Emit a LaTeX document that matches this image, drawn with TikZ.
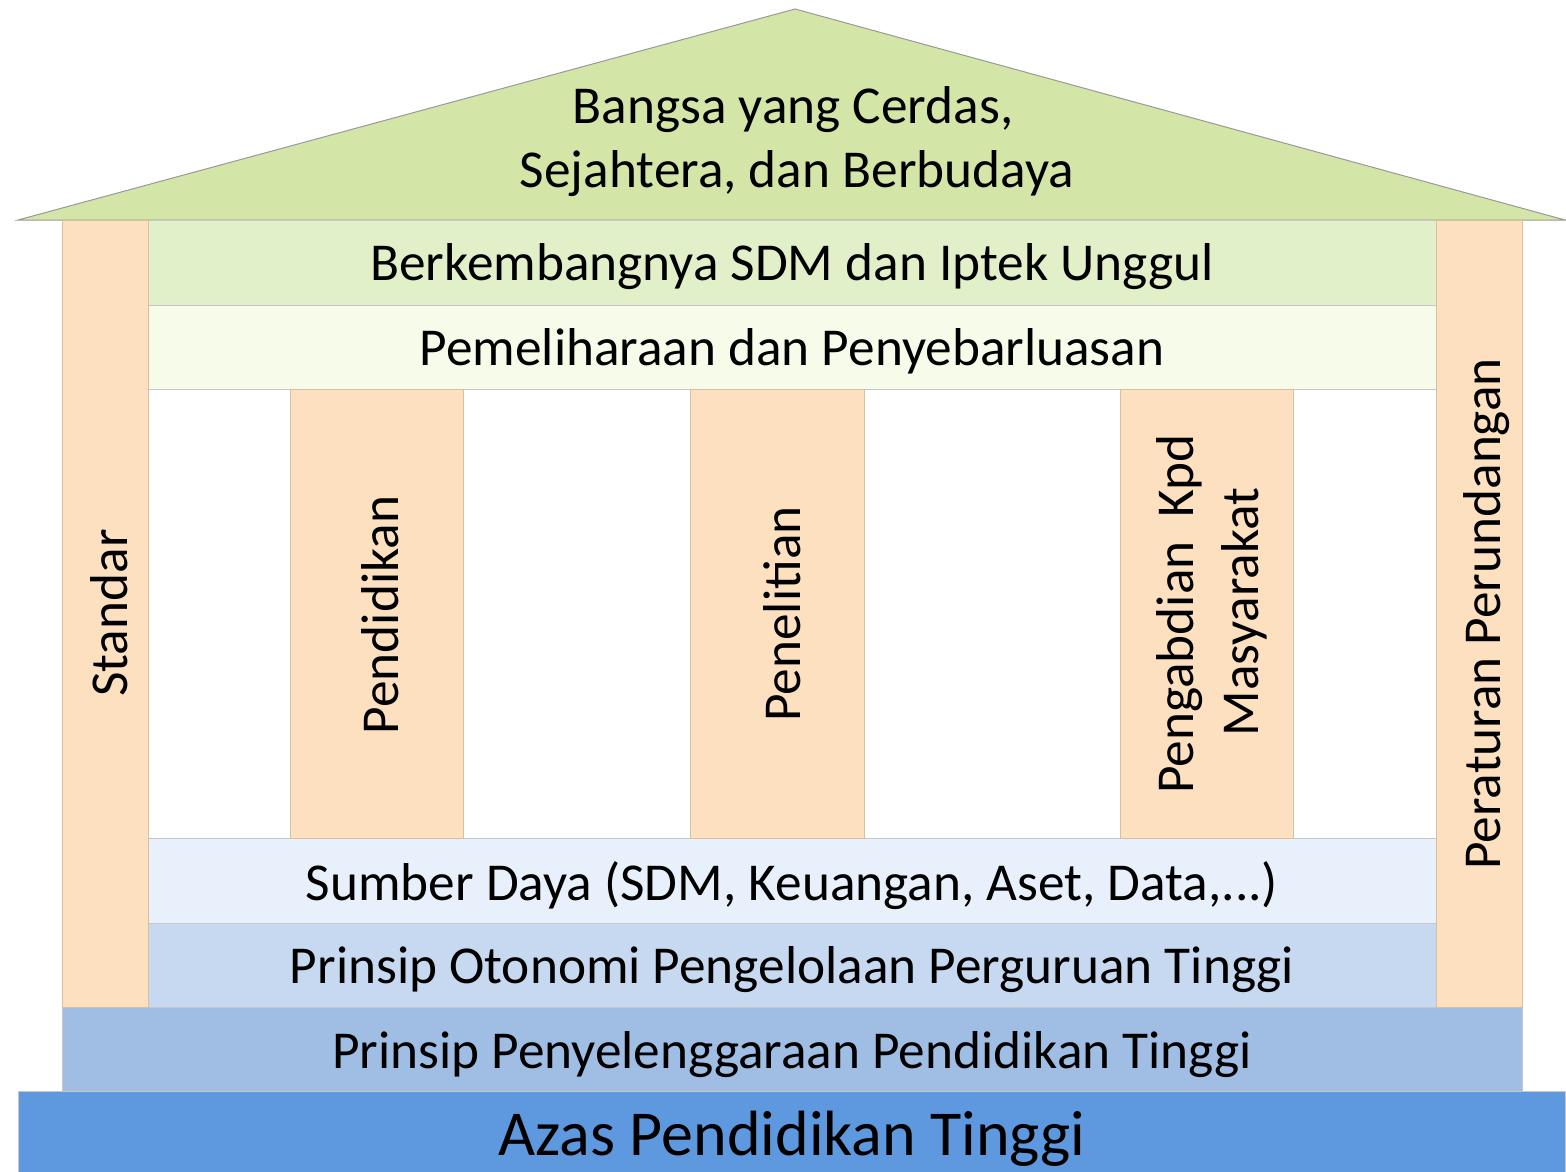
\documentclass[tikz,border=0pt]{standalone}
\usepackage{fontspec}
\setmainfont{Carlito}
\begin{document}
\begin{tikzpicture}[x=1pt,y=-1pt,
  band/.style={draw=black!22,line width=1pt},
  pillar/.style={fill=pillarfill,draw=pillarline,line width=1pt},
  lbl/.style={inner sep=0pt,anchor=base,font=\fontsize{53.3}{64}\selectfont},
  vlbl/.style={lbl,rotate=90}]
\definecolor{rooffill}{HTML}{D4E5A8}
\definecolor{berkfill}{HTML}{E2F0C9}
\definecolor{pemfill}{HTML}{F6FBEA}
\definecolor{sumfill}{HTML}{E8F1FB}
\definecolor{otofill}{HTML}{C6D9F0}
\definecolor{penyfill}{HTML}{A0BEE3}
\definecolor{azasfill}{HTML}{5E98DF}
\definecolor{pillarfill}{HTML}{FDE0BF}
\definecolor{pillarline}{HTML}{D9BF9E}
\useasboundingbox (0,0) rectangle (1566,1171);
% roof
\draw[fill=rooffill,draw=black!40,line width=1pt] (18,220) -- (795,9) -- (1565,220) -- cycle;
% bands
\draw[band,fill=berkfill] (148,220) rectangle (1436,305);
\draw[band,fill=pemfill] (148,305) rectangle (1436,389);
\draw[band,fill=sumfill] (148,838) rectangle (1436,923);
\draw[band,fill=otofill] (148,923) rectangle (1436,1007);
\draw[band,fill=penyfill] (62,1007) rectangle (1522,1091);
\draw[band,fill=azasfill] (18,1091) rectangle (1565,1175);
% pillars
\draw[pillar] (62,220) rectangle (148,1007);
\draw[pillar] (1436,220) rectangle (1522,1007);
\draw[pillar] (290,389) rectangle (463,838);
\draw[pillar] (690,389) rectangle (864,838);
\draw[pillar] (1120,389) rectangle (1293,838);
% texts
\node[lbl] (roof1) at (793,123) {Bangsa yang Cerdas,};
\node[lbl] (roof2) at (797,187) {Sejahtera, dan Berbudaya};
\node[lbl] (berk) at (792,280) {Berkembangnya SDM dan Iptek Unggul};
\node[lbl] (pem) at (792,365) {Pemeliharaan dan Penyebarluasan};
\node[lbl] (sum) at (792,900) {Sumber Daya (SDM, Keuangan, Aset, Data,...)};
\node[lbl] (oto) at (792,983) {Prinsip Otonomi Pengelolaan Perguruan Tinggi};
\node[lbl] (peny) at (792,1068) {Prinsip Penyelenggaraan Pendidikan Tinggi};
\node[inner sep=0pt,anchor=base,font=\fontsize{64}{76}\selectfont] (azas) at (792,1155) {Azas Pendidikan Tinggi};
\node[vlbl] (std) at (127,613) {Standar};
\node[vlbl] (pend) at (398,615) {Pendidikan};
\node[vlbl] (pen) at (800,614) {Penelitian};
\node[vlbl] (per) at (1500,614) {Peraturan Perundangan};
\node[vlbl] (abd1) at (1193,614) {Pengabdian\ \ Kpd};
\node[vlbl] (abd2) at (1258,612) {Masyarakat};
\end{tikzpicture}
\end{document}
